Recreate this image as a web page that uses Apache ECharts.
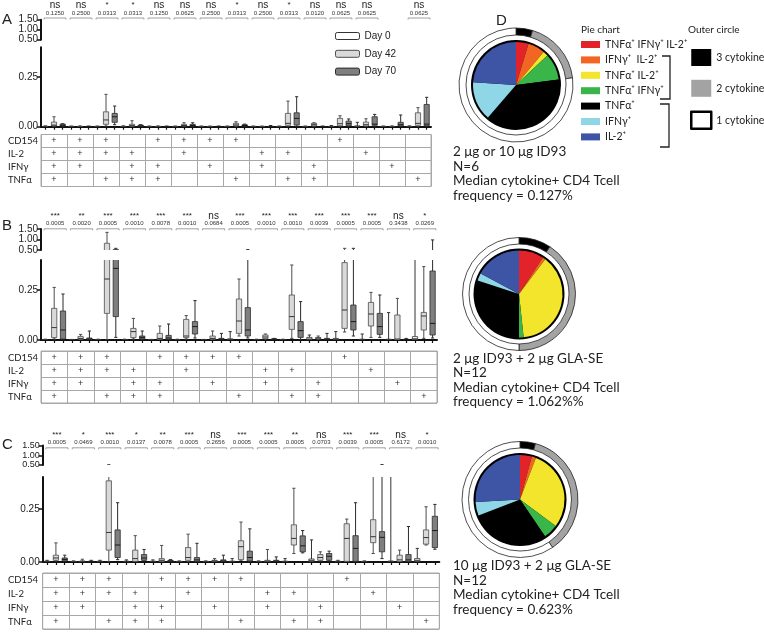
<!DOCTYPE html>
<html><head><meta charset="utf-8">
<script src="https://cdn.jsdelivr.net/npm/echarts@6/dist/echarts.min.js"></script>
<style>html,body{margin:0;padding:0;background:#fff}#c{width:764px;height:633px}</style>
</head><body><div id="c"></div>
<script>
// ---------------- DATA ----------------
const days = ['Day 0', 'Day 42', 'Day 70'];
const groupNames = ['1','2','3','4','5','6','7','8','9','10','11','12','13','14','15'];
const markers = ['CD154', 'IL-2', 'IFNγ', 'TNFα'];
const plusCD154 = [1,1,1,0,1,1,1,1,0,0,0,1,0,0,0];
const plusIL2   = [1,1,1,1,0,1,0,0,1,1,0,0,1,0,0];
const plusIFNg  = [1,1,0,1,1,0,1,0,1,0,1,0,0,1,0];
const plusTNFa  = [1,0,1,1,1,0,0,1,0,1,1,0,0,0,1];

// box values: [min, Q1, median, Q3, max] per group
const A0 = [[0,0,0.001,0.002,0.004],[0,0,0.001,0.002,0.003],[0,0,0.001,0.002,0.003],[0,0,0.001,0.002,0.004],[0,0,0.001,0.002,0.003],
  [0,0,0.001,0.002,0.003],[0,0,0.001,0.002,0.003],[0,0,0.001,0.002,0.003],[0,0,0.001,0.002,0.003],[0,0,0.001,0.002,0.003],
  [0,0,0.001,0.002,0.003],[0,0,0.001,0.002,0.006],[0,0,0.002,0.004,0.022],[0,0,0.001,0.002,0.003],[0,0,0.001,0.002,0.004]];
const A42 = [[0,0.004,0.008,0.023,0.05],[0,0,0.001,0.002,0.004],[0.003,0.012,0.034,0.075,0.163],[0,0.002,0.005,0.012,0.03],[0,0,0.001,0.002,0.004],
  [0,0.003,0.006,0.012,0.02],[0,0,0.001,0.002,0.003],[0,0.004,0.009,0.017,0.025],[0,0,0.001,0.002,0.003],[0,0.007,0.017,0.067,0.129],
  [0,0.004,0.01,0.017,0.02],[0,0.005,0.015,0.042,0.055],[0,0.003,0.01,0.023,0.04],[0,0,0.001,0.002,0.004],[0,0.007,0.017,0.07,0.096]];
const A70 = [[0,0.003,0.007,0.013,0.015],[0,0,0.001,0.002,0.003],[0.01,0.022,0.05,0.067,0.104],[0,0.002,0.004,0.008,0.01],[0,0,0.001,0.002,0.003],
  [0,0.003,0.006,0.012,0.02],[0,0,0.001,0.002,0.003],[0,0.003,0.006,0.01,0.013],[0,0,0.001,0.002,0.006],[0,0.008,0.042,0.07,0.151],
  [0,0,0.001,0.002,0.003],[0,0.004,0.015,0.028,0.039],[0,0.007,0.013,0.05,0.062],[0,0.003,0.01,0.022,0.059],[0,0.005,0.013,0.112,0.148]];

const B0 = [[0,0,0.001,0.002,0.004],[0,0,0.001,0.002,0.003],[0,0,0.001,0.002,0.004],[0,0,0.001,0.002,0.004],[0,0,0.001,0.002,0.003],
  [0,0,0.001,0.002,0.004],[0,0,0.001,0.002,0.003],[0,0.001,0.003,0.006,0.042],[0,0,0.001,0.002,0.004],[0,0,0.001,0.002,0.004],
  [0,0.002,0.005,0.013,0.025],[0,0.002,0.004,0.008,0.042],[0,0,0.002,0.004,0.03],[0,0,0.002,0.004,0.137],[0,0.002,0.006,0.017,0.41]];
const B42 = [[0.005,0.012,0.062,0.158,0.263],[0,0.003,0.008,0.018,0.028],[0,0.133,0.305,0.82,1.34],[0.005,0.012,0.042,0.058,0.108],[0,0.003,0.008,0.033,0.07],
  [0.005,0.012,0.02,0.103,0.122],[0,0.003,0.008,0.02,0.045],[0.02,0.033,0.095,0.205,0.305],[0,0.007,0.015,0.025,0.03],[0.008,0.053,0.117,0.225,0.375],
  [0,0.005,0.01,0.012,0.02],[0.04,0.058,0.15,0.387,0.58],[0.013,0.07,0.13,0.188,0.238],[0,0,0.005,0.125,0.208],[0.008,0.05,0.12,0.138,0.367]];
const B70 = [[0.005,0.005,0.05,0.145,0.23],[0,0.002,0.005,0.01,0.045],[0.013,0.117,0.358,0.52,0.58],[0,0.005,0.013,0.02,0.045],[0,0.003,0.01,0.023,0.08],
  [0.01,0.03,0.067,0.092,0.197],[0,0.002,0.004,0.008,0.033],[0.01,0.02,0.05,0.162,0.52],[0,0.002,0.004,0.006,0.008],[0,0.013,0.047,0.092,0.192],
  [0,0.002,0.004,0.008,0.033],[0.02,0.05,0.092,0.175,0.58],[0.013,0.028,0.067,0.133,0.225],[0,0,0.002,0.004,0.008],[0.01,0.025,0.083,0.345,0.98]];

const C0 = [[0,0,0.002,0.004,0.008],[0,0,0.001,0.003,0.005],[0,0,0.002,0.004,0.008],[0,0,0.002,0.004,0.01],[0,0,0.002,0.004,0.01],
  [0,0,0.001,0.003,0.005],[0,0,0.001,0.003,0.005],[0,0,0.002,0.004,0.016],[0,0,0.001,0.003,0.005],[0,0,0.002,0.004,0.016],
  [0,0.003,0.008,0.014,0.104],[0,0,0.002,0.004,0.008],[0,0,0.001,0.003,0.005],[0,0,0.002,0.005,0.41],[0,0.003,0.008,0.016,0.064]];
const C42 = [[0.005,0.008,0.019,0.032,0.09],[0,0,0.003,0.005,0.013],[0,0.056,0.139,0.382,0.52],[0,0.003,0.016,0.056,0.124],[0,0.002,0.008,0.016,0.078],
  [0.003,0.008,0.021,0.068,0.131],[0,0.002,0.005,0.008,0.016],[0.008,0.011,0.072,0.1,0.188],[0,0.002,0.004,0.008,0.059],[0.04,0.08,0.111,0.175,0.347],
  [0.005,0.008,0.021,0.035,0.048],[0,0.003,0.111,0.18,0.202],[0.04,0.091,0.119,0.199,0.41],[0,0.002,0.01,0.032,0.056],[0.08,0.084,0.115,0.151,0.26]];
const C70 = [[0.004,0.005,0.012,0.019,0.032],[0,0,0.002,0.004,0.008],[0.011,0.021,0.08,0.151,0.279],[0.005,0.008,0.019,0.035,0.059],[0,0.002,0.005,0.008,0.011],
  [0,0.003,0.01,0.021,0.088],[0,0.002,0.005,0.01,0.032],[0.002,0.005,0.021,0.051,0.156],[0,0.002,0.004,0.008,0.024],[0.043,0.048,0.076,0.123,0.148],
  [0.005,0.008,0.027,0.04,0.051],[0,0.003,0.064,0.124,0.279],[0.016,0.048,0.116,0.143,0.52],[0,0.002,0.01,0.035,0.167],[0.06,0.068,0.148,0.215,0.271]];

// significance annotations
const sigA = ['ns','ns','*','*','ns','ns','ns','*','ns','*','ns','ns','ns',null,'ns'];
const pA   = ['0.1250','0.2500','0.0313','0.0313','0.1250','0.0625','0.2500','0.0313','0.2500','0.0313','0.0120','0.0625','0.0625',null,'0.0625'];
const sigB = ['***','**','***','***','***','***','ns','***','***','***','***','***','***','ns','*'];
const pB   = ['0.0005','0.0020','0.0005','0.0010','0.0078','0.0010','0.0684','0.0005','0.0010','0.0010','0.0039','0.0005','0.0005','0.3438','0.0269'];
const sigC = ['***','*','***','*','**','***','ns','***','***','**','ns','***','***','ns','*'];
const pC   = ['0.0005','0.0469','0.0010','0.0137','0.0078','0.0005','0.2656','0.0005','0.0005','0.0005','0.0703','0.0039','0.0005','0.6172','0.0010'];

// pies (percent of cytokine+ CD4 T cells)
const pieNames = ['TNFα⁺ IFNγ⁺ IL-2⁺', 'IFNγ⁺  IL-2⁺', 'TNFα⁺ IL-2⁺', 'TNFα⁺ IFNγ⁺', 'TNFα⁺', 'IFNγ⁺', 'IL-2⁺'];
const pieA = [4.7, 6.4, 1.9, 10.0, 38.3, 14.7, 24.0];
const pieB = [9.2, 1.1, 38.0, 1.7, 30.0, 2.8, 17.2];
const pieC = [4.3, 1.5, 29.4, 5.3, 28.6, 5.0, 25.9];
const ringNames = ['3 cytokines', '2 cytokines', '1 cytokine'];
const ringA = [4.7, 18.3, 77.0];
const ringB = [9.2, 40.8, 50.0];
const ringC = [4.3, 36.2, 59.5];
const descA = ['2 μg or 10 μg ID93', 'N=6', 'Median cytokine+ CD4 Tcell', 'frequency = 0.127%'];
const descB = ['2 μg ID93 + 2 μg GLA-SE', 'N=12', 'Median cytokine+ CD4 Tcell', 'frequency = 1.062%%'];
const descC = ['10 μg ID93 + 2 μg GLA-SE', 'N=12', 'Median cytokine+ CD4 Tcell', 'frequency = 0.623%'];

// ---------------- STYLE / LAYOUT ----------------
const FONT = 'Liberation Sans';
const dayStyles = [
  {fill:'#ffffff', stroke:'#333333', median:'#333333'},
  {fill:'#d9d9d9', stroke:'#4d4d4d', median:'#333333'},
  {fill:'#7f7f7f', stroke:'#2b2b2b', median:'#1a1a1a'}
];
const pieColors = ['#e2242a','#f26522','#f2e52b','#39b54a','#000000','#8fd6e6','#3d55a4'];
const ringColors = ['#000000','#a3a3a3','#ffffff'];
const panelGeom = [
  {left:41, width:390, annTop:0, annH:18.5, upTop:19.7, upH:20, lowTop:47.3, lowH:79.4, tabTop:134.5, tabH:52, upFont:10},
  {left:41, width:396, annTop:200, annH:29.3, upTop:229, upH:21, lowTop:260, lowH:80, tabTop:351, tabH:52, upFont:10},
  {left:42.7, width:396.6, annTop:420, annH:28.3, upTop:445.5, upH:19.5, lowTop:477, lowH:85, tabTop:573, tabH:56, upFont:9}
];
const pieGeom = [
  {c:[516, 85], r:43, ring:[50, 57]},
  {c:[519, 294], r:43.5, ring:[50, 56.5]},
  {c:[520, 499.5], r:44.5, ring:[51.5, 58]}
];

const slotNames = [];
groupNames.forEach(g => days.forEach(d => slotNames.push(g + ' ' + d)));

function boxRenderer(st) {
  return function (params, api) {
    const slot = api.value(0);
    const v = [api.value(1), api.value(2), api.value(3), api.value(4), api.value(5)];
    const cx = api.coord([slot, 0])[0];
    const bw = api.size([1, 0])[0];
    const hw = bw * 0.3, cw = bw * 0.18;
    const y = v.map(val => api.coord([slot, val])[1]);
    const ls = {stroke: st.stroke, lineWidth: 1};
    return {type:'group', children:[
      {type:'line', shape:{x1:cx, y1:y[0], x2:cx, y2:y[1]}, style:ls},
      {type:'line', shape:{x1:cx, y1:y[3], x2:cx, y2:y[4]}, style:ls},
      {type:'line', shape:{x1:cx-cw, y1:y[4], x2:cx+cw, y2:y[4]}, style:ls},
      {type:'line', shape:{x1:cx-cw, y1:y[0], x2:cx+cw, y2:y[0]}, style:ls},
      {type:'rect', shape:{x:cx-hw, y:y[3], width:2*hw, height:Math.max(y[1]-y[3], 0.8)}, style:{fill:st.fill, stroke:st.stroke, lineWidth:0.8}},
      {type:'line', shape:{x1:cx-hw, y1:y[2], x2:cx+hw, y2:y[2]}, style:{stroke:st.median, lineWidth:1}}
    ]};
  };
}
function annRenderer(sig, pv) {
  return function (params, api) {
    const g = api.value(0);
    const c = api.coord([g, 0]);
    const bw = api.size([1, 0])[0];
    const x1 = c[0] - bw * 0.42 + 1, x2 = c[0] + bw * 0.42 + 1, y = c[1] - 0.5;
    const s = sig[g], isNs = s === 'ns';
    const mid = (x1 + x2) / 2;
    return {type:'group', children:[
      {type:'polyline', shape:{points:[[x1, y + 1.5], [x1, y], [x2, y], [x2, y + 1.5]]}, style:{stroke:'#888', lineWidth:0.8, fill:null}},
      {type:'text', style:{x:mid, y:y - 5, text:pv[g], font:'6px "' + FONT + '"', fill:'#333', textAlign:'center', textVerticalAlign:'middle', align:'center', verticalAlign:'middle'}},
      {type:'text', style:{x:mid, y: isNs ? y - 12.5 : y - 13.5, text:s, font:(isNs ? '10px "' : '8px "') + FONT + '"', fill:'#222', textAlign:'center', textVerticalAlign:'middle', align:'center', verticalAlign:'middle'}}
    ]};
  };
}
function plusRenderer(params, api) {
  const p = api.coord([api.value(0), api.value(1)]);
  return {type:'text', style:{x:p[0], y:p[1], text:'+', font:'9px "' + FONT + '"', fill:'#333', textAlign:'center', textVerticalAlign:'middle', align:'center', verticalAlign:'middle'}};
}

const boxData = [[A0, A42, A70], [B0, B42, B70], [C0, C42, C70]];
const sigData = [[sigA, pA], [sigB, pB], [sigC, pC]];
const plusRows = [plusCD154, plusIL2, plusIFNg, plusTNFa];
const plusData = [];
plusRows.forEach((row, r) => row.forEach((v, c) => { if (v) plusData.push([c, r]); }));

const grids = [], xAxes = [], yAxes = [], series = [];
const axisLineStyle = {color:'#111', width:2};
panelGeom.forEach((g, p) => {
  const b = p * 4;
  grids.push({left:g.left, width:g.width, top:g.annTop, height:g.annH});
  xAxes.push({type:'category', gridIndex:b, data:groupNames, show:false});
  yAxes.push({type:'value', gridIndex:b, min:0, max:1, show:false});

  grids.push({left:g.left, width:g.width, top:g.upTop, height:g.upH});
  xAxes.push({type:'category', gridIndex:b+1, data:slotNames, show:false});
  yAxes.push({type:'value', gridIndex:b+1, min:0.5, max:1.5, interval:0.5,
    axisLine:{show:true, lineStyle:axisLineStyle}, axisTick:{show:true, length:4, lineStyle:{color:'#111', width:1.5}},
    axisLabel:{fontSize:g.upFont, color:'#222', margin:3, fontFamily:FONT, showMinLabel:true, showMaxLabel:true, hideOverlap:false,
      formatter:v => v.toFixed(2)}, splitLine:{show:false}});

  grids.push({left:g.left, width:g.width, top:g.lowTop, height:g.lowH});
  xAxes.push({type:'category', gridIndex:b+2, data:slotNames, boundaryGap:true,
    axisLine:{show:true, lineStyle:axisLineStyle},
    axisTick:{show:true, alignWithLabel:true, interval:0, length:3, lineStyle:{color:'#111', width:1.2}},
    axisLabel:{show:false}, splitLine:{show:false}});
  yAxes.push({type:'value', gridIndex:b+2, min:0, max:0.4, interval:0.25,
    axisLine:{show:true, lineStyle:axisLineStyle}, axisTick:{show:true, length:4, lineStyle:{color:'#111', width:1.5}},
    axisLabel:{fontSize:10, color:'#222', margin:3, fontFamily:FONT, showMaxLabel:false, formatter:v => v.toFixed(2)}, splitLine:{show:false}});

  grids.push({left:g.left, width:g.width, top:g.tabTop, height:g.tabH, show:true, borderColor:'#a8a8a8', borderWidth:1});
  xAxes.push({type:'category', gridIndex:b+3, data:groupNames, axisLine:{show:false}, axisTick:{show:false},
    axisLabel:{show:false}, splitLine:{show:true, interval:0, lineStyle:{color:'#a8a8a8', width:1}}});
  yAxes.push({type:'category', gridIndex:b+3, data:markers, inverse:true, axisLine:{show:false}, axisTick:{show:false},
    axisLabel:{interval:0, align:'left', margin:g.left - 8, fontSize:9.5, fontFamily:'Lato', color:'#222'},
    splitLine:{show:true, interval:0, lineStyle:{color:'#a8a8a8', width:1}}});

  // significance
  const [sig, pv] = sigData[p];
  series.push({type:'custom', xAxisIndex:b, yAxisIndex:b, silent:true, renderItem:annRenderer(sig, pv),
    data: sig.map((s, i) => s ? [i, 0] : null).filter(Boolean)});
  // boxes
  boxData[p].forEach((arr, d) => {
    const data = arr.map((v, gi) => [gi * 3 + d].concat(v));
    [1, 2].forEach(k => {
      series.push({type:'custom', name:days[d], xAxisIndex:b+k, yAxisIndex:b+k, clip:true,
        renderItem:boxRenderer(dayStyles[d]), data:data,
        encode:{x:0, y:[1,2,3,4,5]},
        itemStyle:{color:dayStyles[d].fill, borderColor:dayStyles[d].stroke}});
    });
  });
  // table plus signs
  series.push({type:'custom', xAxisIndex:b+3, yAxisIndex:b+3, silent:true, renderItem:plusRenderer, data:plusData});
});

// pies
const pieVals = [pieA, pieB, pieC], ringVals = [ringA, ringB, ringC];
pieGeom.forEach((pg, i) => {
  series.push({type:'pie', center:pg.c, radius:[0, pg.r + 2], silent:true, label:{show:false}, labelLine:{show:false},
    data:[{name:'outline', value:1, itemStyle:{color:'#000'}}]});
  series.push({type:'pie', center:pg.c, radius:[0, pg.r], startAngle:90, clockwise:true, silent:true,
    label:{show:false}, labelLine:{show:false}, itemStyle:{borderWidth:0},
    data: pieNames.map((n, j) => ({name:n, value:pieVals[i][j], itemStyle:{color:pieColors[j]}}))});
  series.push({type:'pie', center:pg.c, radius:pg.ring, startAngle:90, clockwise:true, silent:true,
    label:{show:false}, labelLine:{show:false}, itemStyle:{borderColor:'#222', borderWidth:0.8},
    data: ringNames.map((n, j) => ({name:n, value:ringVals[i][j], itemStyle:{color:ringColors[j]}}))});
});

const titleFont = {fontSize:15, fontWeight:'normal', color:'#222', fontFamily:FONT};
const descStyle = {fontSize:13.5, fontWeight:'normal', color:'#222', fontFamily:'Lato', lineHeight:14.5};
const option = {
  animation:false,
  backgroundColor:'#fff',
  textStyle:{fontFamily:FONT},
  title:[
    {text:'A', left:2, top:12.5, padding:0, textStyle:titleFont},
    {text:'B', left:2, top:218, padding:0, textStyle:titleFont},
    {text:'C', left:2, top:437.5, padding:0, textStyle:titleFont},
    {text:'D', left:496, top:13, padding:0, textStyle:titleFont},
    {text:'Pie chart', left:581, top:25, padding:0, textStyle:{fontSize:10, fontWeight:'normal', color:'#222', fontFamily:'Lato'}},
    {text:'Outer circle', left:688, top:25, padding:0, textStyle:{fontSize:10, fontWeight:'normal', color:'#222', fontFamily:'Lato'}},
    {text:descA.join('\n'), left:453, top:144.5, padding:0, textStyle:descStyle},
    {text:descB.join('\n'), left:453, top:351, padding:0, textStyle:descStyle},
    {text:descC.join('\n'), left:453, top:558.5, padding:0, textStyle:descStyle}
  ],
  legend:[
    {data: days.map((d, i) => ({name:d, itemStyle:{color:dayStyles[i].fill, borderColor:dayStyles[i].stroke, borderWidth:1}})),
     left:335, top:30, orient:'vertical', itemWidth:24, itemHeight:7, itemGap:5.8, icon:'roundRect', padding:0, selectedMode:false,
     textStyle:{fontSize:10, lineHeight:12, color:'#222', fontFamily:FONT}},
    {data: pieNames.map((n, j) => ({name:n, itemStyle:{color:pieColors[j], borderWidth:0}})),
     left:581, top:39, orient:'vertical', itemWidth:19, itemHeight:7, itemGap:4.4, icon:'rect', padding:0, selectedMode:false,
     textStyle:{fontSize:10.5, lineHeight:11, color:'#222', fontFamily:'Lato'}},
    {data: ringNames.map((n, j) => ({name:n, itemStyle: j === 2 ? {color:'#fff', borderColor:'#000', borderWidth:2.5} : {color:ringColors[j], borderWidth:0}})),
     left:690, top:49, orient:'vertical', itemWidth:20, itemHeight:17, itemGap:13.8, icon:'rect', padding:0, selectedMode:false,
     textStyle:{fontSize:10.5, color:'#222', fontFamily:'Lato'}}
  ],
  grid:grids, xAxis:xAxes, yAxis:yAxes, series:series,
  graphic:[
    {type:'polyline', silent:true, shape:{points:[[662,56],[670,56],[670,99],[660,99]]}, style:{stroke:'#222', lineWidth:1.3, fill:null}},
    {type:'polyline', silent:true, shape:{points:[[660,104],[669,104],[669,147],[660,147]]}, style:{stroke:'#222', lineWidth:1.3, fill:null}}
  ]
};
const chart = echarts.init(document.getElementById('c'), null, {renderer:'canvas'});
chart.setOption(option);
</script></body></html>
